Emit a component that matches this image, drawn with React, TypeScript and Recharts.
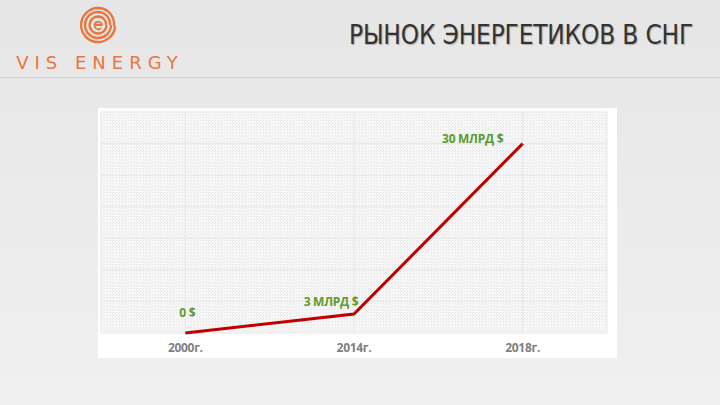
import React from "react";
import { LineChart, Line, XAxis, YAxis, CartesianGrid, LabelList } from "recharts";

const categories = ["2000г.", "2014г.", "2018г."];
const values = [0, 3, 30];
const valueLabels = ["0 $", "3 МЛРД $", "30 МЛРД $"];
const yTicks = [0, 5, 10, 15, 20, 25, 30, 35];

const data = categories.map((c, i) => ({ name: c, value: values[i], label: valueLabels[i] }));

const labelOffsets = [
  { dx: 2, dy: -16 },
  { dx: -23, dy: -8 },
  { dx: -50, dy: -1 },
];

const GreenLabel = (props: any) => {
  const { x, y, value, index } = props;
  const o = labelOffsets[index] || { dx: 0, dy: -8 };
  return (
    <text
      x={x + o.dx}
      y={y + o.dy}
      textAnchor="middle"
      fill="#5b9b2b"
      fontSize={12}
      fontWeight="bold"
      fontFamily="'Open Sans', 'Liberation Sans', sans-serif"
      letterSpacing={-0.3}
    >
      {value}
    </text>
  );
};

const Logo = () => (
  <svg width={200} height={78} style={{ position: "absolute", left: 0, top: 0 }}>
    <g fill="none" stroke="#e8773f" strokeWidth={2.4} strokeLinecap="round">
      <path d="M115 27 A17 17 0 1 1 98 8" />
      <path d="M98 8 A16 16 0 0 1 114 25" />
      <path d="M111 26 A13 13 0 1 1 98 12" />
      <path d="M98 12 A12 12 0 0 1 110 24" />
      <path d="M106.5 26 A8.5 8.5 0 1 1 98 16.5" />
      <path d="M98 16.5 A8 8 0 0 1 106 24" />
      <path d="M94.5 25 L102 25 A3.8 3.8 0 1 0 100.5 28.5" strokeWidth={1.8} />
    </g>
    <text
      x={100}
      y={69}
      textAnchor="middle"
      fill="#e8773f"
      fontSize={18}
      fontFamily="'DejaVu Sans', sans-serif"
      letterSpacing={6}
    >
      VIS ENERGY
    </text>
  </svg>
);

export default function App() {
  return (
    <div
      style={{
        position: "absolute",
        left: 0,
        top: 0,
        width: 720,
        height: 405,
        overflow: "hidden",
        background: "linear-gradient(180deg, #e6e6e6 0%, #ececec 60%, #f0f0f0 100%)",
      }}
    >
      <svg width={0} height={0} style={{ position: "absolute" }}>
        <defs>
          <pattern id="dots" width={3} height={3} patternUnits="userSpaceOnUse">
            <rect width={3} height={3} fill="#f7f7f7" />
            <rect x={0} y={0} width={1} height={1} fill="#e2e2e2" />
            <rect x={2} y={1} width={1} height={1} fill="#ececec" />
          </pattern>
        </defs>
      </svg>
      <Logo />
      <div
        style={{
          position: "absolute",
          left: 349,
          top: 20,
          fontFamily: "'DejaVu Sans Condensed', 'DejaVu Sans', sans-serif",
          fontSize: 26,
          color: "#333333",
          textShadow: "1px 1px 1px rgba(0,0,0,0.25)",
          whiteSpace: "nowrap",
          letterSpacing: -0.2,
        }}
      >
        РЫНОК ЭНЕРГЕТИКОВ В СНГ
      </div>
      <div
        style={{
          position: "absolute",
          left: 0,
          top: 77,
          width: 720,
          height: 1,
          background: "#cfcfcf",
        }}
      />
      <div
        style={{
          position: "absolute",
          left: 98,
          top: 108,
          width: 519,
          height: 250,
          background: "#ffffff",
        }}
      >
        <LineChart
          width={519}
          height={250}
          data={data}
          margin={{ top: 4, right: 10, bottom: 0, left: 3 }}
        >
          <CartesianGrid
            fill="url(#dots)"
            stroke="#e6e6e6"
            strokeWidth={1}
            vertical={true}
            horizontal={true}
          />
          <XAxis
            dataKey="name"
            scale="band"
            axisLine={false}
            tickLine={false}
            height={25}
            tick={{
              fill: "#7f7f7f",
              fontSize: 12,
              fontWeight: "bold",
              fontFamily: "'Open Sans', 'Liberation Sans', sans-serif",
              letterSpacing: -0.3,
            }}
            tickMargin={4}
          />
          <YAxis hide domain={[0, 35]} ticks={yTicks} />
          <Line
            type="linear"
            dataKey="value"
            stroke="#c00000"
            strokeWidth={3}
            dot={false}
            isAnimationActive={false}
          >
            <LabelList dataKey="label" content={<GreenLabel />} />
          </Line>
        </LineChart>
      </div>
    </div>
  );
}
